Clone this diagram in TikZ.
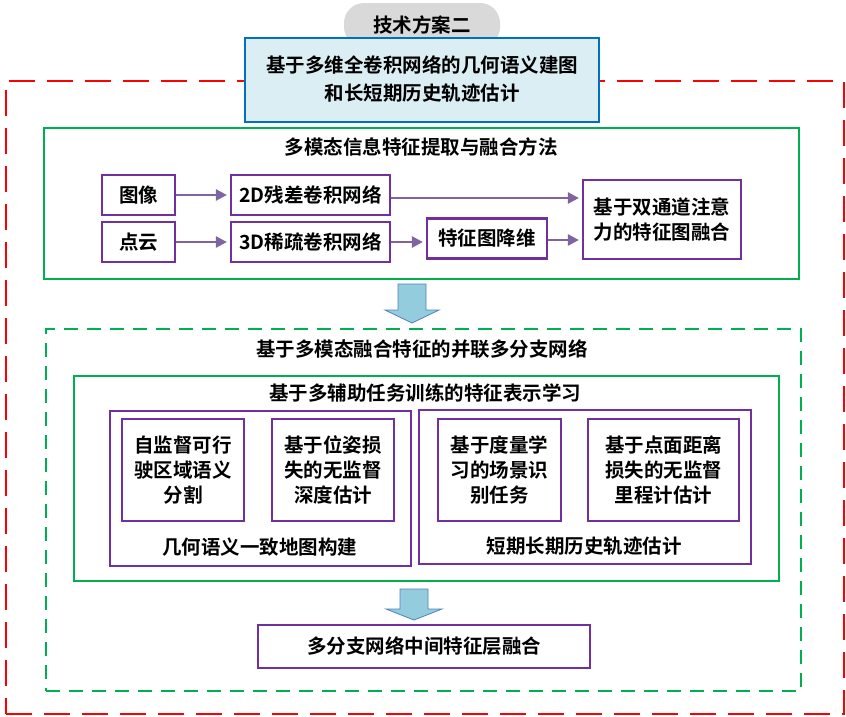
\documentclass[tikz,border=0pt]{standalone}
\usepackage{fontspec}
\setmainfont{Noto Sans CJK SC Bold}
\usetikzlibrary{arrows.meta}
\definecolor{cred}{HTML}{FF0000}
\definecolor{cgreen}{HTML}{00B050}
\definecolor{cpurple}{HTML}{7030A0}
\definecolor{carrow}{HTML}{8064A2}
\definecolor{cblue}{HTML}{0070C0}
\definecolor{cbluefill}{HTML}{DBEEF4}
\definecolor{cgrey}{HTML}{D9D9D9}
\definecolor{cbig}{HTML}{93CDDD}
\definecolor{cbigline}{HTML}{4F81BD}
\begin{document}
\begin{tikzpicture}[x=1pt,y=-1pt,
  txt/.style={font=\fontsize{19.5}{23}\selectfont, align=center, inner sep=0pt},
  pbox/.style={draw=cpurple, line width=2.2pt, fill=white, inner sep=0pt, txt},
  gbox/.style={draw=cgreen, line width=2pt, inner sep=0pt},
  con/.style={draw=carrow, line width=2.5pt, -{Triangle[length=11pt,width=11pt]}, shorten >=3pt},
  big/.style={fill=cbig, draw=cbigline, line width=0.8pt}
]
\useasboundingbox (0,0) rectangle (846,716);
% outer red dashed
\node[draw=cred, line width=2pt, dash pattern=on 26pt off 12pt, minimum width=838pt, minimum height=633pt, inner sep=0pt, anchor=north west] (outer) at (5,80) {};
% top
\node[fill=cgrey, rounded corners=20pt, minimum width=156pt, minimum height=44pt, txt] (pill) at (422,25) {技术方案二};
\node[draw=cblue, fill=cbluefill, line width=2pt, minimum width=354pt, minimum height=84pt, txt] (title) at (422,79.5) {基于多维全卷积网络的几何语义建图\\[5pt]和长短期历史轨迹估计};
% section 1
\node[gbox, minimum width=755pt, minimum height=151pt, anchor=north west] (sec1) at (43,127) {};
\node[txt] (sec1t) at (421,147) {多模态信息特征提取与融合方法};
\node[pbox, minimum width=73pt, minimum height=40pt] (img) at (138.5,195) {图像};
\node[pbox, minimum width=159pt, minimum height=40pt] (cnn2) at (310.5,195) {2D残差卷积网络};
\node[pbox, minimum width=73pt, minimum height=40pt] (pc) at (138.5,242) {点云};
\node[pbox, minimum width=159pt, minimum height=40pt] (cnn3) at (310.5,242) {3D稀疏卷积网络};
\node[pbox, minimum width=120pt, minimum height=40pt] (red) at (487,238.5) {特征图降维};
\node[pbox, minimum width=158pt, minimum height=79pt] (fus) at (662,219.5) {基于双通道注意\\[2pt]力的特征图融合};
\draw[con] (img.east) -- (cnn2.west);
\draw[con] (cnn2.east |- 0,198) -- (fus.west |- 0,198);
\draw[con] (pc.east) -- (cnn3.west);
\draw[con] (cnn3.east) -- (red.west |- cnn3.east);
\draw[con] (red.east |- 0,240) -- (fus.west |- 0,240);
% big arrow 1
\draw[big] (398,284) -- (426,284) -- (426,310) -- (439,310) -- (412,323) -- (385,310) -- (398,310) -- cycle;
% section 2
\node[draw=cgreen, line width=2pt, dash pattern=on 14pt off 9pt, minimum width=755pt, minimum height=362pt, inner sep=0pt, anchor=north west] (sec2) at (45,328) {};
\node[txt] (sec2t) at (422,349) {基于多模态融合特征的并联多分支网络};
\node[gbox, minimum width=705pt, minimum height=205pt, anchor=north west] (sec3) at (73,375) {};
\node[txt] (sec3t) at (425,393) {基于多辅助任务训练的特征表示学习};
\node[pbox, minimum width=301pt, minimum height=155pt, anchor=north west] (lg) at (109,410) {};
\node[pbox, minimum width=332pt, minimum height=154pt, anchor=north west] (rg) at (418,409) {};
\node[txt] (lgt) at (259.5,547) {几何语义一致地图构建};
\node[txt] (rgt) at (584,546) {短期长期历史轨迹估计};
\node[pbox, minimum width=122pt, minimum height=102pt, anchor=north west, line width=2pt] (b1) at (121,418) {};
\node[txt] (b1t) at (b1.center) {自监督可行\\[2pt]驶区域语义\\[2pt]分割};
\node[pbox, minimum width=122pt, minimum height=102pt, anchor=north west, line width=2pt] (b2) at (271,418) {};
\node[txt] (b2t) at (b2.center) {基于位姿损\\[2pt]失的无监督\\[2pt]深度估计};
\node[pbox, minimum width=123pt, minimum height=102pt, anchor=north west, line width=2pt] (b3) at (437,418) {};
\node[txt] (b3t) at (b3.center) {基于度量学\\[2pt]习的场景识\\[2pt]别任务};
\node[pbox, minimum width=151pt, minimum height=102pt, anchor=north west, line width=2pt] (b4) at (587,418) {};
\node[txt] (b4t) at (b4.center) {基于点面距离\\[2pt]损失的无监督\\[2pt]里程计估计};
% big arrow 2
\draw[big] (400,589) -- (428,589) -- (428,609) -- (442,609) -- (414,620) -- (386,609) -- (400,609) -- cycle;
\node[pbox, minimum width=332pt, minimum height=43pt] (mid) at (424,646.5) {多分支网络中间特征层融合};
\end{tikzpicture}
\end{document}
